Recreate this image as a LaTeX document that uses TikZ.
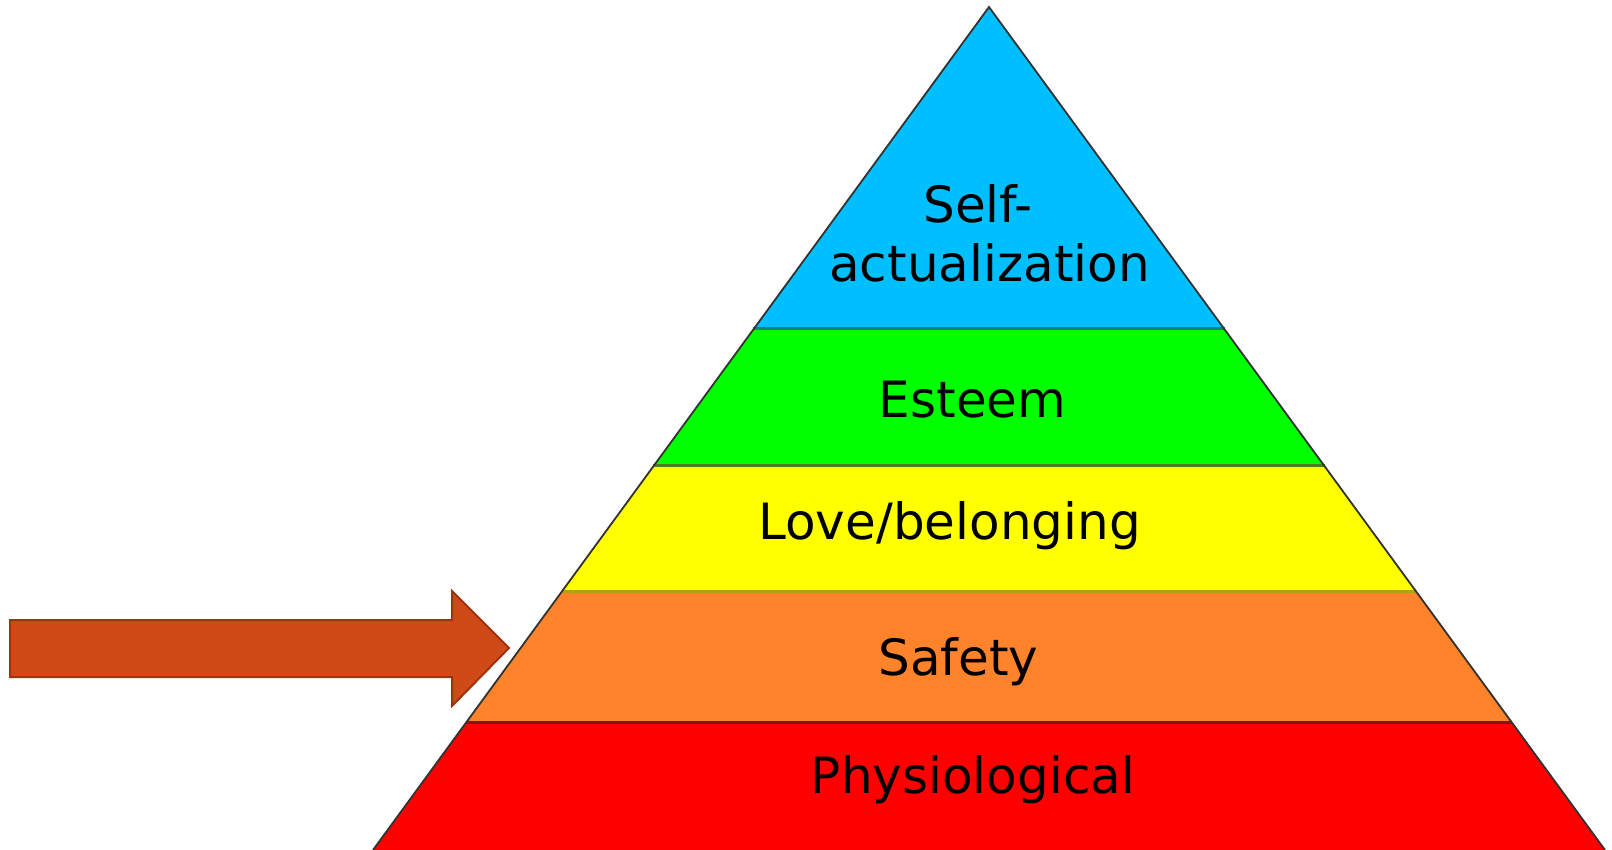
\documentclass[tikz,border=0pt]{standalone}
\usepackage{fontspec}
\setmainfont{DejaVu Sans}
\usetikzlibrary{calc}
\definecolor{cblue}{RGB}{0,191,255}
\definecolor{cgreen}{RGB}{0,255,0}
\definecolor{cyellow}{RGB}{255,255,0}
\definecolor{corange}{RGB}{255,131,42}
\definecolor{cred}{RGB}{255,0,0}
\definecolor{dblue}{RGB}{20,130,130}
\definecolor{dgreen}{RGB}{70,130,20}
\definecolor{dyellow}{RGB}{180,160,10}
\definecolor{dred}{RGB}{125,25,15}
\definecolor{outline}{RGB}{50,50,50}
\definecolor{arrfill}{RGB}{208,74,24}
\definecolor{arrdraw}{RGB}{160,50,15}
\tikzset{
  lbl/.style={anchor=base, inner sep=0pt, font=\fontsize{25}{30}\selectfont},
  divider/.style={line width=1.5pt},
}
\begin{document}
\begin{tikzpicture}[x=0.5pt,y=-0.5pt]
\useasboundingbox (0,0) rectangle (1612,850);
\coordinate (A) at (989,7);
\coordinate (L) at (373,850);
\coordinate (R) at (1605,850);
\coordinate (L1) at ($(A)!0.3824!(373,849)$);
\coordinate (R1) at ($(A)!0.3824!(1605,849)$);
\coordinate (L2) at ($(A)!0.5451!(373,849)$);
\coordinate (R2) at ($(A)!0.5451!(1605,849)$);
\coordinate (L3) at ($(A)!0.6936!(373,849)$);
\coordinate (R3) at ($(A)!0.6936!(1605,849)$);
\coordinate (L4) at ($(A)!0.8492!(373,849)$);
\coordinate (R4) at ($(A)!0.8492!(1605,849)$);
% layers
\fill[cblue] (A) -- (L1) -- (R1) -- cycle;
\fill[cgreen] (L1) -- (L2) -- (R2) -- (R1) -- cycle;
\fill[cyellow] (L2) -- (L3) -- (R3) -- (R2) -- cycle;
\fill[corange] (L3) -- (L4) -- (R4) -- (R3) -- cycle;
\fill[cred] (L4) -- (L) -- (R) -- (R4) -- cycle;
% dividers
\draw[divider, dblue] (L1) -- (R1);
\draw[divider, dgreen] (L2) -- (R2);
\draw[divider, dyellow] (L3) -- (R3);
\draw[divider, dred] (L4) -- (R4);
% outline
\draw[outline, line width=0.9pt, line join=miter] (L) -- (A) -- (R);
% arrow
\draw[fill=arrfill, draw=arrdraw, line width=1pt, line join=miter]
  (10,620) -- (452,620) -- (452,591) -- (509,648) -- (452,706) -- (452,677) -- (10,677) -- cycle;
% labels
\node[lbl] (self) at (978,223) {Self-};
\node[lbl] (actual) at (989.5,282) {actualization};
\node[lbl] (esteem) at (972.5,417) {Esteem};
\node[lbl] (love) at (949.5,539) {Love/belonging};
\node[lbl] (safety) at (958.5,675) {Safety};
\node[lbl] (physio) at (973,793) {Physiological};
\end{tikzpicture}
\end{document}
